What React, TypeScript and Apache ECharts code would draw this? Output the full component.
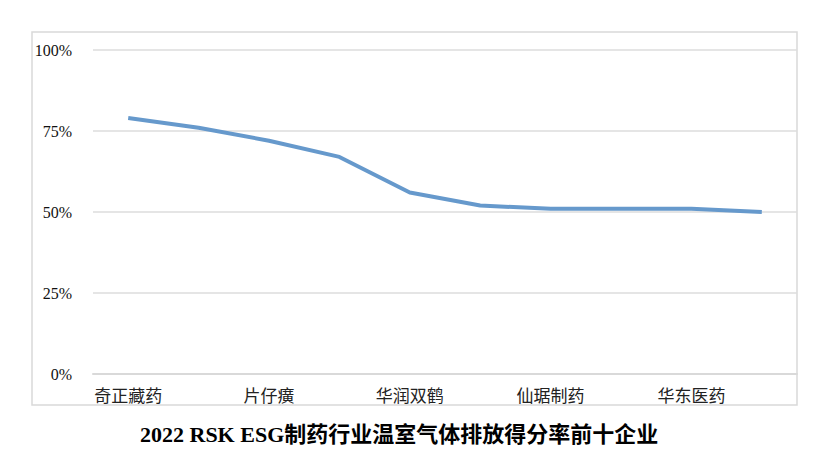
import React, { useEffect, useRef } from "react";
import * as echarts from "echarts";

const categories = ["奇正藏药", "", "片仔癀", "", "华润双鹤", "", "仙琚制药", "", "华东医药", ""];
const values = [79, 76, 72, 67, 56, 52, 51, 51, 51, 50];
const yTicks = [0, 25, 50, 75, 100];
const title = "2022 RSK ESG制药行业温室气体排放得分率前十企业";

export default function App() {
  const ref = useRef<HTMLDivElement>(null);
  useEffect(() => {
    if (!ref.current) return;
    const chart = echarts.init(ref.current, null, { renderer: "svg" });
    chart.setOption({
      animation: false,
      backgroundColor: "#ffffff",
      grid: { left: 93, right: 34, top: 50, bottom: 94 },
      graphic: [
        {
          type: "rect",
          shape: { x: 32, y: 32, width: 765, height: 373 },
          style: { fill: "none", stroke: "#d9d9d9", lineWidth: 1.5 },
          silent: true,
          z: -1,
        },
        {
          type: "text",
          left: 140,
          top: 423,
          style: {
            text: title,
            fontFamily: "'Liberation Serif', 'Noto Sans CJK SC', serif",
            fontWeight: "bold",
            fontSize: 22,
            fill: "#000000",
          },
        },
      ],
      xAxis: {
        type: "category",
        data: categories,
        boundaryGap: true,
        axisLine: { show: true, lineStyle: { color: "#d9d9d9", width: 2 } },
        axisTick: { show: false },
        axisLabel: {
          interval: 1,
          margin: 12,
          fontSize: 17,
          color: "#222222",
          fontFamily: "'Noto Sans CJK SC', sans-serif",
        },
      },
      yAxis: {
        type: "value",
        min: 0,
        max: 100,
        interval: 25,
        axisLine: { show: false },
        axisTick: { show: false },
        splitLine: { lineStyle: { color: "#dcdcdc", width: 1.5 } },
        axisLabel: {
          margin: 21,
          fontSize: 16,
          color: "#111111",
          fontFamily: "'Liberation Serif', serif",
          formatter: (v: number) => (yTicks.includes(v) ? v + "%" : ""),
        },
      },
      series: [
        {
          type: "line",
          data: values,
          symbol: "none",
          lineStyle: { color: "#6699cc", width: 4 },
          smooth: false,
        },
      ],
    });
    return () => chart.dispose();
  }, []);
  return (
    <div
      ref={ref}
      style={{ position: "fixed", left: 0, top: 0, width: 831, height: 468 }}
    />
  );
}
